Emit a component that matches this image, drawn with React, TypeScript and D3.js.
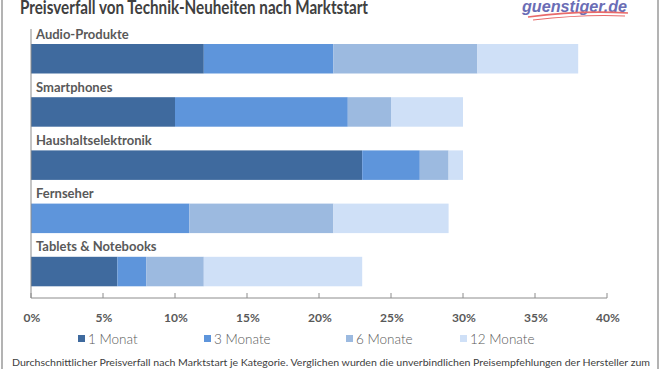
import React from "react";
import * as d3 from "d3";

const categories = ["Audio-Produkte", "Smartphones", "Haushaltselektronik", "Fernseher", "Tablets & Notebooks"];
const seriesNames = ["1 Monat", "3 Monate", "6 Monate", "12 Monate"];
const monat1 = [12, 10, 23, 0, 6];
const monate3 = [9, 12, 4, 11, 2];
const monate6 = [10, 3, 2, 10, 4];
const monate12 = [7, 5, 1, 8, 11];
const tickValues = [0, 5, 10, 15, 20, 25, 30, 35, 40];
const colors = ["#3F6A9E", "#5E95DB", "#9CBAE0", "#CFE0F7"];
const title = "Preisverfall von Technik-Neuheiten nach Marktstart";
const footnote = "Durchschnittlicher Preisverfall nach Marktstart je Kategorie. Verglichen wurden die unverbindlichen Preisempfehlungen der Hersteller zum";

export default function App() {
  const W = 660, H = 369;
  const x = d3.scaleLinear().domain([0, 40]).range([31, 607]);
  const y = d3.scaleBand<string>().domain(categories).range([30, 296]).padding(0);
  const rows = categories.map((c, i) => ({
    cat: c,
    "1 Monat": monat1[i],
    "3 Monate": monate3[i],
    "6 Monate": monate6[i],
    "12 Monate": monate12[i],
  }));
  const stack = d3.stack<any>().keys(seriesNames)(rows);
  const axisY = 298;
  const legendX = [78, 204, 346, 460];
  const font = "Lato, 'Open Sans', sans-serif";

  return (
    <svg width={W} height={H} style={{ position: "absolute", left: 0, top: 0, background: "#fff" }}>
      <rect x={0} y={0} width={W} height={H} fill="#fff" />
      <line x1={2} y1={0} x2={2} y2={H} stroke="#9a9a9a" strokeWidth={1.5} />
      <line x1={658} y1={0} x2={658} y2={H} stroke="#9a9a9a" strokeWidth={1.5} />
      <text x={20} y={14} fontFamily={font} fontWeight="bold" fontSize={18} fill="#404040" textLength={348} lengthAdjust="spacingAndGlyphs">{title}</text>
      <text x={522} y={12} fontFamily="'Liberation Sans', Arial, sans-serif" fontWeight="bold" fontStyle="italic" fontSize={17} fill="#6A6DB5" textLength={105} lengthAdjust="spacingAndGlyphs">guenstiger.de</text>
      <path d="M528,17 Q580,10 628,13" fill="none" stroke="#E86A6A" strokeWidth={1.6} />
      <path d="M533,20 Q585,14 625,16" fill="none" stroke="#E86A6A" strokeWidth={1.2} />
      {stack.map((s, si) => (
        <g key={s.key}>
          {s.map((d, i) => (
            <rect key={i} x={x(d[0])} y={(y(categories[i]) as number) + 14} width={Math.max(0, x(d[1]) - x(d[0]))} height={29.5} fill={colors[si]} />
          ))}
        </g>
      ))}
      {categories.map((c) => (
        <text key={c} x={36} y={(y(c) as number) + 8.5} fontFamily={font} fontWeight="bold" fontSize={13} fill="#595959">{c}</text>
      ))}
      <line x1={31} y1={29} x2={31} y2={axisY} stroke="#8c8c8c" strokeWidth={1} />
      <line x1={31} y1={axisY} x2={607} y2={axisY} stroke="#8c8c8c" strokeWidth={1} />
      {tickValues.map((t) => (
        <g key={t}>
          <line x1={x(t)} y1={axisY - 5} x2={x(t)} y2={axisY} stroke="#8c8c8c" strokeWidth={1} />
          <text x={x(t) + 1} y={322} textAnchor="middle" fontFamily={font} fontWeight="bold" fontSize={12} fill="#595959">{t + "%"}</text>
        </g>
      ))}
      {seriesNames.map((n, i) => (
        <g key={n}>
          <rect x={legendX[i]} y={335} width={7} height={7} fill={colors[i]} />
          <text x={legendX[i] + 10} y={343.5} fontFamily={font} fontWeight={300} fontSize={13.5} fill="#595959">{n}</text>
        </g>
      ))}
      <text x={12} y={366} fontFamily={font} fontSize={10} fill="#404040" textLength={638} lengthAdjust="spacingAndGlyphs">{footnote}</text>
    </svg>
  );
}
